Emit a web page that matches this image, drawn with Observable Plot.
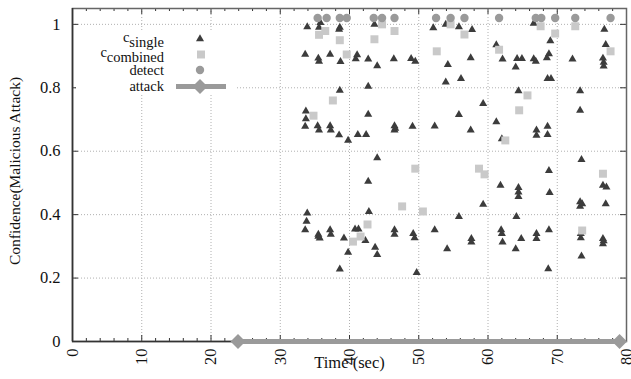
<!DOCTYPE html>
<html><head><meta charset="utf-8">
<script src="https://cdn.jsdelivr.net/npm/d3@7"></script>
<script src="https://cdn.jsdelivr.net/npm/@observablehq/plot@0.6"></script>
<style>body{margin:0;background:#fff}</style>
</head><body><div id="chart"></div>
<script>
// c_single: [time (sec), confidence]
const single = [
[33.9,0.992],[35.8,1.005],[35.6,0.99],[38.5,0.984],[38.6,0.99],[43.6,1.0],[52.1,0.989],[53.9,1.0],[55.8,0.992],[57.7,0.983],[66.6,1.003],[76.8,0.984],[69.0,0.948],[77.0,0.936],[61.2,0.935],
[33.6,0.905],[35.5,0.893],[35.6,0.883],[37.2,0.905],[38.7,0.882],[41.1,0.904],[40.9,0.891],[42.7,0.89],[44.0,0.869],[46.4,0.891],[48.9,0.892],[49.5,0.883],[54.2,0.873],[57.5,0.894],[62.1,0.89],[64.0,0.865],[64.2,0.892],[64.9,0.892],[66.6,0.891],[66.9,0.883],[68.5,0.894],[68.8,0.907],[72.2,0.89],[76.6,0.893],[76.7,0.88],[76.7,0.868],[53.9,0.818],[56.1,0.829],[68.6,0.829],[69.1,0.829],
[38.6,0.792],[42.7,0.804],[64.4,0.79],[73.3,0.79],
[33.7,0.726],[33.7,0.702],[33.6,0.678],[35.4,0.68],[35.6,0.666],[37.2,0.68],[37.3,0.666],[38.5,0.651],[39.8,0.634],[41.2,0.652],[42.4,0.652],[42.7,0.716],[46.5,0.68],[46.5,0.666],[46.6,0.672],[49.1,0.678],[52.3,0.679],[55.8,0.715],[57.5,0.666],[59.3,0.75],[61.2,0.692],[62.0,0.639],[67.0,0.666],[67.0,0.65],[68.6,0.678],[68.6,0.652],[73.3,0.729],
[44.0,0.579],[73.5,0.573],[68.8,0.539],[42.7,0.505],[61.8,0.492],[64.4,0.485],[64.4,0.471],[64.4,0.457],[68.9,0.469],[76.6,0.492],[77.1,0.487],[59.3,0.432],[73.3,0.44],[73.3,0.426],[73.6,0.434],[77.0,0.434],
[33.9,0.405],[33.8,0.379],[33.6,0.352],[35.5,0.338],[35.7,0.326],[35.5,0.331],[37.2,0.352],[37.3,0.338],[39.2,0.326],[39.8,0.281],[38.6,0.228],[40.8,0.354],[41.3,0.354],[42.3,0.318],[42.8,0.409],[43.7,0.297],[44.0,0.274],[46.5,0.352],[46.5,0.338],[49.2,0.34],[49.4,0.327],[49.7,0.217],[52.3,0.352],[54.1,0.292],[55.8,0.394],[57.6,0.324],[57.6,0.313],[61.9,0.352],[62.0,0.34],[62.1,0.313],[64.0,0.292],[64.1,0.394],[64.8,0.324],[67.0,0.34],[67.0,0.324],[68.8,0.352],[68.7,0.229],[73.4,0.34],[73.4,0.327],[73.5,0.269],[76.6,0.324],[76.6,0.308],[76.7,0.317]
];
// c_combined
const combined = [
[35.6,0.967],[36.5,0.979],[38.6,0.95],[39.6,0.905],[44.7,1.0],[43.6,0.953],[46.5,0.979],[37.6,0.76],[34.8,0.712],[52.6,0.915],[54.6,1.0],[56.6,0.968],[61.6,0.92],[67.6,0.994],[69.7,0.971],[72.6,0.994],[77.7,0.915],[65.7,0.776],[64.5,0.729],[62.5,0.634],[49.5,0.545],[58.7,0.545],[59.5,0.527],[76.6,0.529],[47.6,0.426],[50.6,0.41],[42.6,0.369],[41.6,0.331],[40.5,0.315],[73.6,0.35]
];
// detect events (time), plotted at detectLevel
const detectX = [35.4,36.7,38.6,39.6,43.5,44.7,46.5,52.5,54.6,56.6,61.6,66.9,67.7,69.7,72.6,77.7];
const detectLevel = 1.02;
// attack interval (time)
const attackX = [23.9, 79.0];

const xTicks = [0,10,20,30,40,50,60,70,80];
const xMinor = [2,4,6,8,12,14,16,18,22,24,26,28,32,34,36,38,42,44,46,48,52,54,56,58,62,64,66,68,72,74,76,78];
const xGrid = [10,20,30,40,50,60,70];
const yTicks = [0,0.2,0.4,0.6,0.8,1];
const yGrid = [0.2,0.4,0.6,0.8,1];

const W = 631, H = 379, mL = 72, mR = 5, mT = 8, mB = 38;
const fw = W - mL - mR, fh = H - mT - mB;
const dark = "#3c3c3c", light = "#c9c9c9", mid = "#9a9a9a";

const plot = Plot.plot({
  width: W, height: H,
  marginLeft: mL, marginRight: mR, marginTop: mT, marginBottom: mB,
  style: {fontFamily: "Liberation Serif", fontSize: "16.5px", background: "#fff", color: "#111"},
  x: {domain: [0, 80], ticks: xTicks, tickFormat: d => String(d), tickSize: 0, tickPadding: 7, tickRotate: -90, label: null},
  y: {domain: [0, 1.05], ticks: yTicks, tickFormat: d => String(d), tickSize: 0, tickPadding: 12, label: null},
  marks: [
    Plot.ruleX(xGrid, {stroke: "#b0b0b0", strokeDasharray: "1,2"}),
    Plot.ruleY(yGrid, {stroke: "#b0b0b0", strokeDasharray: "1,2"}),
    Plot.ruleX(xTicks, {stroke: "#333", insetTop: fh - 6}),
    Plot.ruleX(xMinor, {stroke: "#333", insetTop: fh - 3}),
    Plot.ruleX(xTicks, {stroke: "#333", insetBottom: fh - 6}),
    Plot.ruleX(xMinor, {stroke: "#333", insetBottom: fh - 3}),
    Plot.ruleY(yTicks, {stroke: "#333", insetRight: fw - 6}),
    Plot.ruleY(yTicks, {stroke: "#333", insetLeft: fw - 6}),
    Plot.frame({stroke: "#666", strokeWidth: 1.5}),
    Plot.ruleX([0], {stroke: "#333", strokeWidth: 1.6}),
    Plot.ruleY([0], {stroke: "#333", strokeWidth: 1.6}),
    Plot.dot(single, {x: d => d[0], y: d => d[1], symbol: "triangle", r: 3, fill: dark, stroke: null}),
    Plot.dot(combined, {x: d => d[0], y: d => d[1], symbol: "square", r: 4.5, fill: light, stroke: null}),
    Plot.dot(detectX, {x: d => d, y: () => detectLevel, symbol: "circle", r: 4.2, fill: mid, stroke: null}),
    Plot.line(attackX, {x: d => d, y: () => 0, stroke: mid, strokeWidth: 5}),
    Plot.dot(attackX, {x: d => d, y: () => 0, symbol: "square", rotate: 45, r: 6, fill: mid, stroke: null}),
    Plot.text(["Time (sec)"], {text: d => d, frameAnchor: "bottom", dy: 26, fontSize: 16.5}),
    Plot.text(["Confidence(Malicious Attack)"], {text: d => d, frameAnchor: "left", textAnchor: "middle", rotate: -90, dx: -57, dy: -4, fontSize: 15.5})
  ]
});
document.getElementById("chart").appendChild(plot);

// Legend (opaque key box, as in the original)
const svg = d3.select(plot);
const g = svg.append("g").attr("font-family", "Liberation Serif").attr("font-size", 14.5).attr("fill", "#111");
g.append("rect").attr("x", 76).attr("y", 31).attr("width", 160).attr("height", 63).attr("fill", "#fff");
const tx = 164, sx = 200;
const t1 = g.append("text").attr("x", tx).attr("y", 42).attr("text-anchor", "end");
t1.append("tspan").text("c"); t1.append("tspan").attr("dy", 5).text("single");
const t2 = g.append("text").attr("x", tx).attr("y", 57).attr("text-anchor", "end");
t2.append("tspan").text("c"); t2.append("tspan").attr("dy", 5).text("combined");
g.append("text").attr("x", tx).attr("y", 75).attr("text-anchor", "end").text("detect");
g.append("text").attr("x", tx).attr("y", 90.5).attr("text-anchor", "end").text("attack");
g.append("path").attr("transform", `translate(${sx},39)`).attr("d", d3.symbol(d3.symbolTriangle, Math.PI * 9)()).attr("fill", dark);
g.append("path").attr("transform", `translate(${sx + 1},54.5)`).attr("d", d3.symbol(d3.symbolSquare, Math.PI * 4.5 * 4.5)()).attr("fill", light);
g.append("circle").attr("cx", sx).attr("cy", 70).attr("r", 4.2).attr("fill", mid);
g.append("line").attr("x1", 176).attr("x2", 226).attr("y1", 86.5).attr("y2", 86.5).attr("stroke", mid).attr("stroke-width", 5);
g.append("path").attr("transform", `translate(${sx},86.5) rotate(45)`).attr("d", d3.symbol(d3.symbolSquare, Math.PI * 36)()).attr("fill", mid);
</script>
</body></html>
